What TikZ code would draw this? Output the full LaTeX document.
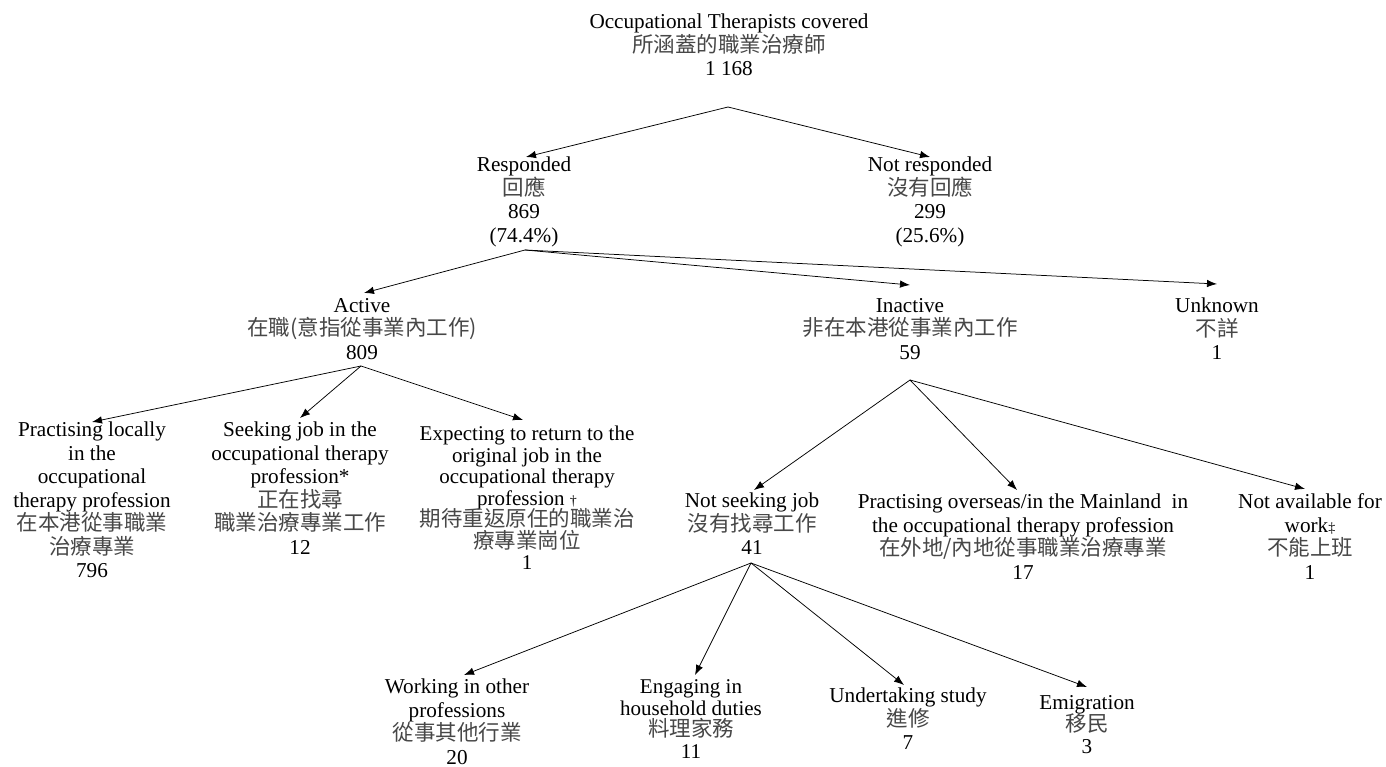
\documentclass[tikz,border=0pt]{standalone}
\usepackage{fontspec}
\setmainfont{Liberation Serif}
\newfontfamily\cjkfont{Noto Sans CJK TC}
\usetikzlibrary{arrows.meta}
\newcommand\zh[1]{{\cjkfont\fontsize{21.5}{23.5}\selectfont\color{black!72}#1}}
\newcommand\dg[1]{{\fontsize{14}{14}\selectfont #1}}
\tikzset{
  lbl/.style={anchor=north, inner sep=0pt, outer sep=0pt, align=center,
    font=\fontsize{21.2}{23.5}\selectfont,
    execute at begin node={\lineskiplimit=-100pt\lineskip=0pt\rule{0pt}{16pt}}},
  tight/.style={font=\fontsize{21}{21.5}\selectfont},
  arr/.style={draw=black, line width=0.75pt, -{Latex[length=10pt,width=7.5pt]}}
}
\begin{document}
\begin{tikzpicture}[x=1pt,y=-1pt]
\fill[white] (0,0) rectangle (1386,767);
\useasboundingbox (0,0) rectangle (1386,767);

% nodes
\node[lbl] (top) at (729,14) {Occupational Therapists covered\\\zh{所涵蓋的職業治療師}\\1 168};
\node[lbl] (resp) at (524,157) {Responded\\\zh{回應}\\869\\(74.4\%)};
\node[lbl] (notresp) at (930,157) {Not responded\\\zh{沒有回應}\\299\\(25.6\%)};
\node[lbl] (active) at (362,298) {Active\\\zh{在職(意指從事業內工作)}\\809};
\node[lbl] (inactive) at (910,298) {Inactive\\\zh{非在本港從事業內工作}\\59};
\node[lbl] (unknown) at (1217,298) {Unknown\\\zh{不詳}\\1};
\node[lbl] (practising) at (92,422) {Practising locally\\in the\\occupational\\therapy profession\\\zh{在本港從事職業}\\\zh{治療專業}\\796};
\node[lbl] (seeking) at (300,422) {Seeking job in the\\occupational therapy\\profession*\\\zh{正在找尋}\\\zh{職業治療專業工作}\\12};
\node[lbl,tight] (expecting) at (527,426) {Expecting to return to the\\original job in the\\occupational therapy\\profession \dg{†}\\\zh{期待重返原任的職業治}\\\zh{療專業崗位}\\1};
\node[lbl] (notseek) at (752,493) {Not seeking job\\\zh{沒有找尋工作}\\41};
\node[lbl] (overseas) at (1023,494) {Practising overseas/in the Mainland\ \ in\\the occupational therapy profession\\\zh{在外地/內地從事職業治療專業}\\17};
\node[lbl] (notavail) at (1310,494) {Not available for\\work\dg{‡}\\\zh{不能上班}\\1};
\node[lbl] (working) at (457,679) {Working in other\\professions\\\zh{從事其他行業}\\20};
\node[lbl,tight] (engaging) at (691,680) {Engaging in\\household duties\\\zh{料理家務}\\11};
\node[lbl] (undertaking) at (908,688) {Undertaking study\\\zh{進修}\\7};
\node[lbl,font=\fontsize{21.2}{22}\selectfont] (emigration) at (1087,695) {Emigration\\\zh{移民}\\3};

% branching points
\coordinate (a1) at (728,107);
\coordinate (a2) at (525,250);
\coordinate (a3) at (361,366);
\coordinate (a4) at (910,380);
\coordinate (a5) at (751,563);

% connectors
\draw[arr] (a1) -- ([xshift=2pt]resp.north);
\draw[arr] (a1) -- (notresp.north);
\draw[arr] (a2) -- ([xshift=2pt,yshift=5pt]active.north);
\draw[arr] (a2) -- ([yshift=13pt]inactive.north);
\draw[arr] (a2) -- ([yshift=14pt]unknown.north);
\draw[arr] (a3) -- (practising.north);
\draw[arr] (a3) -- ([yshift=4pt]seeking.north);
\draw[arr] (a3) -- ([xshift=-4pt,yshift=6pt]expecting.north);
\draw[arr] (a4) -- ([xshift=2pt,yshift=3pt]notseek.north);
\draw[arr] (a4) -- ([xshift=-6pt,yshift=4pt]overseas.north);
\draw[arr] (a4) -- ([xshift=-5pt,yshift=5pt]notavail.north);
\draw[arr] (a5) -- ([xshift=7pt,yshift=4pt]working.north);
\draw[arr] (a5) -- ([xshift=4pt,yshift=5pt]engaging.north);
\draw[arr] (a5) -- ([xshift=-4pt,yshift=3pt]undertaking.north);
\draw[arr] (a5) -- ([yshift=8pt]emigration.north);
\end{tikzpicture}
\end{document}
